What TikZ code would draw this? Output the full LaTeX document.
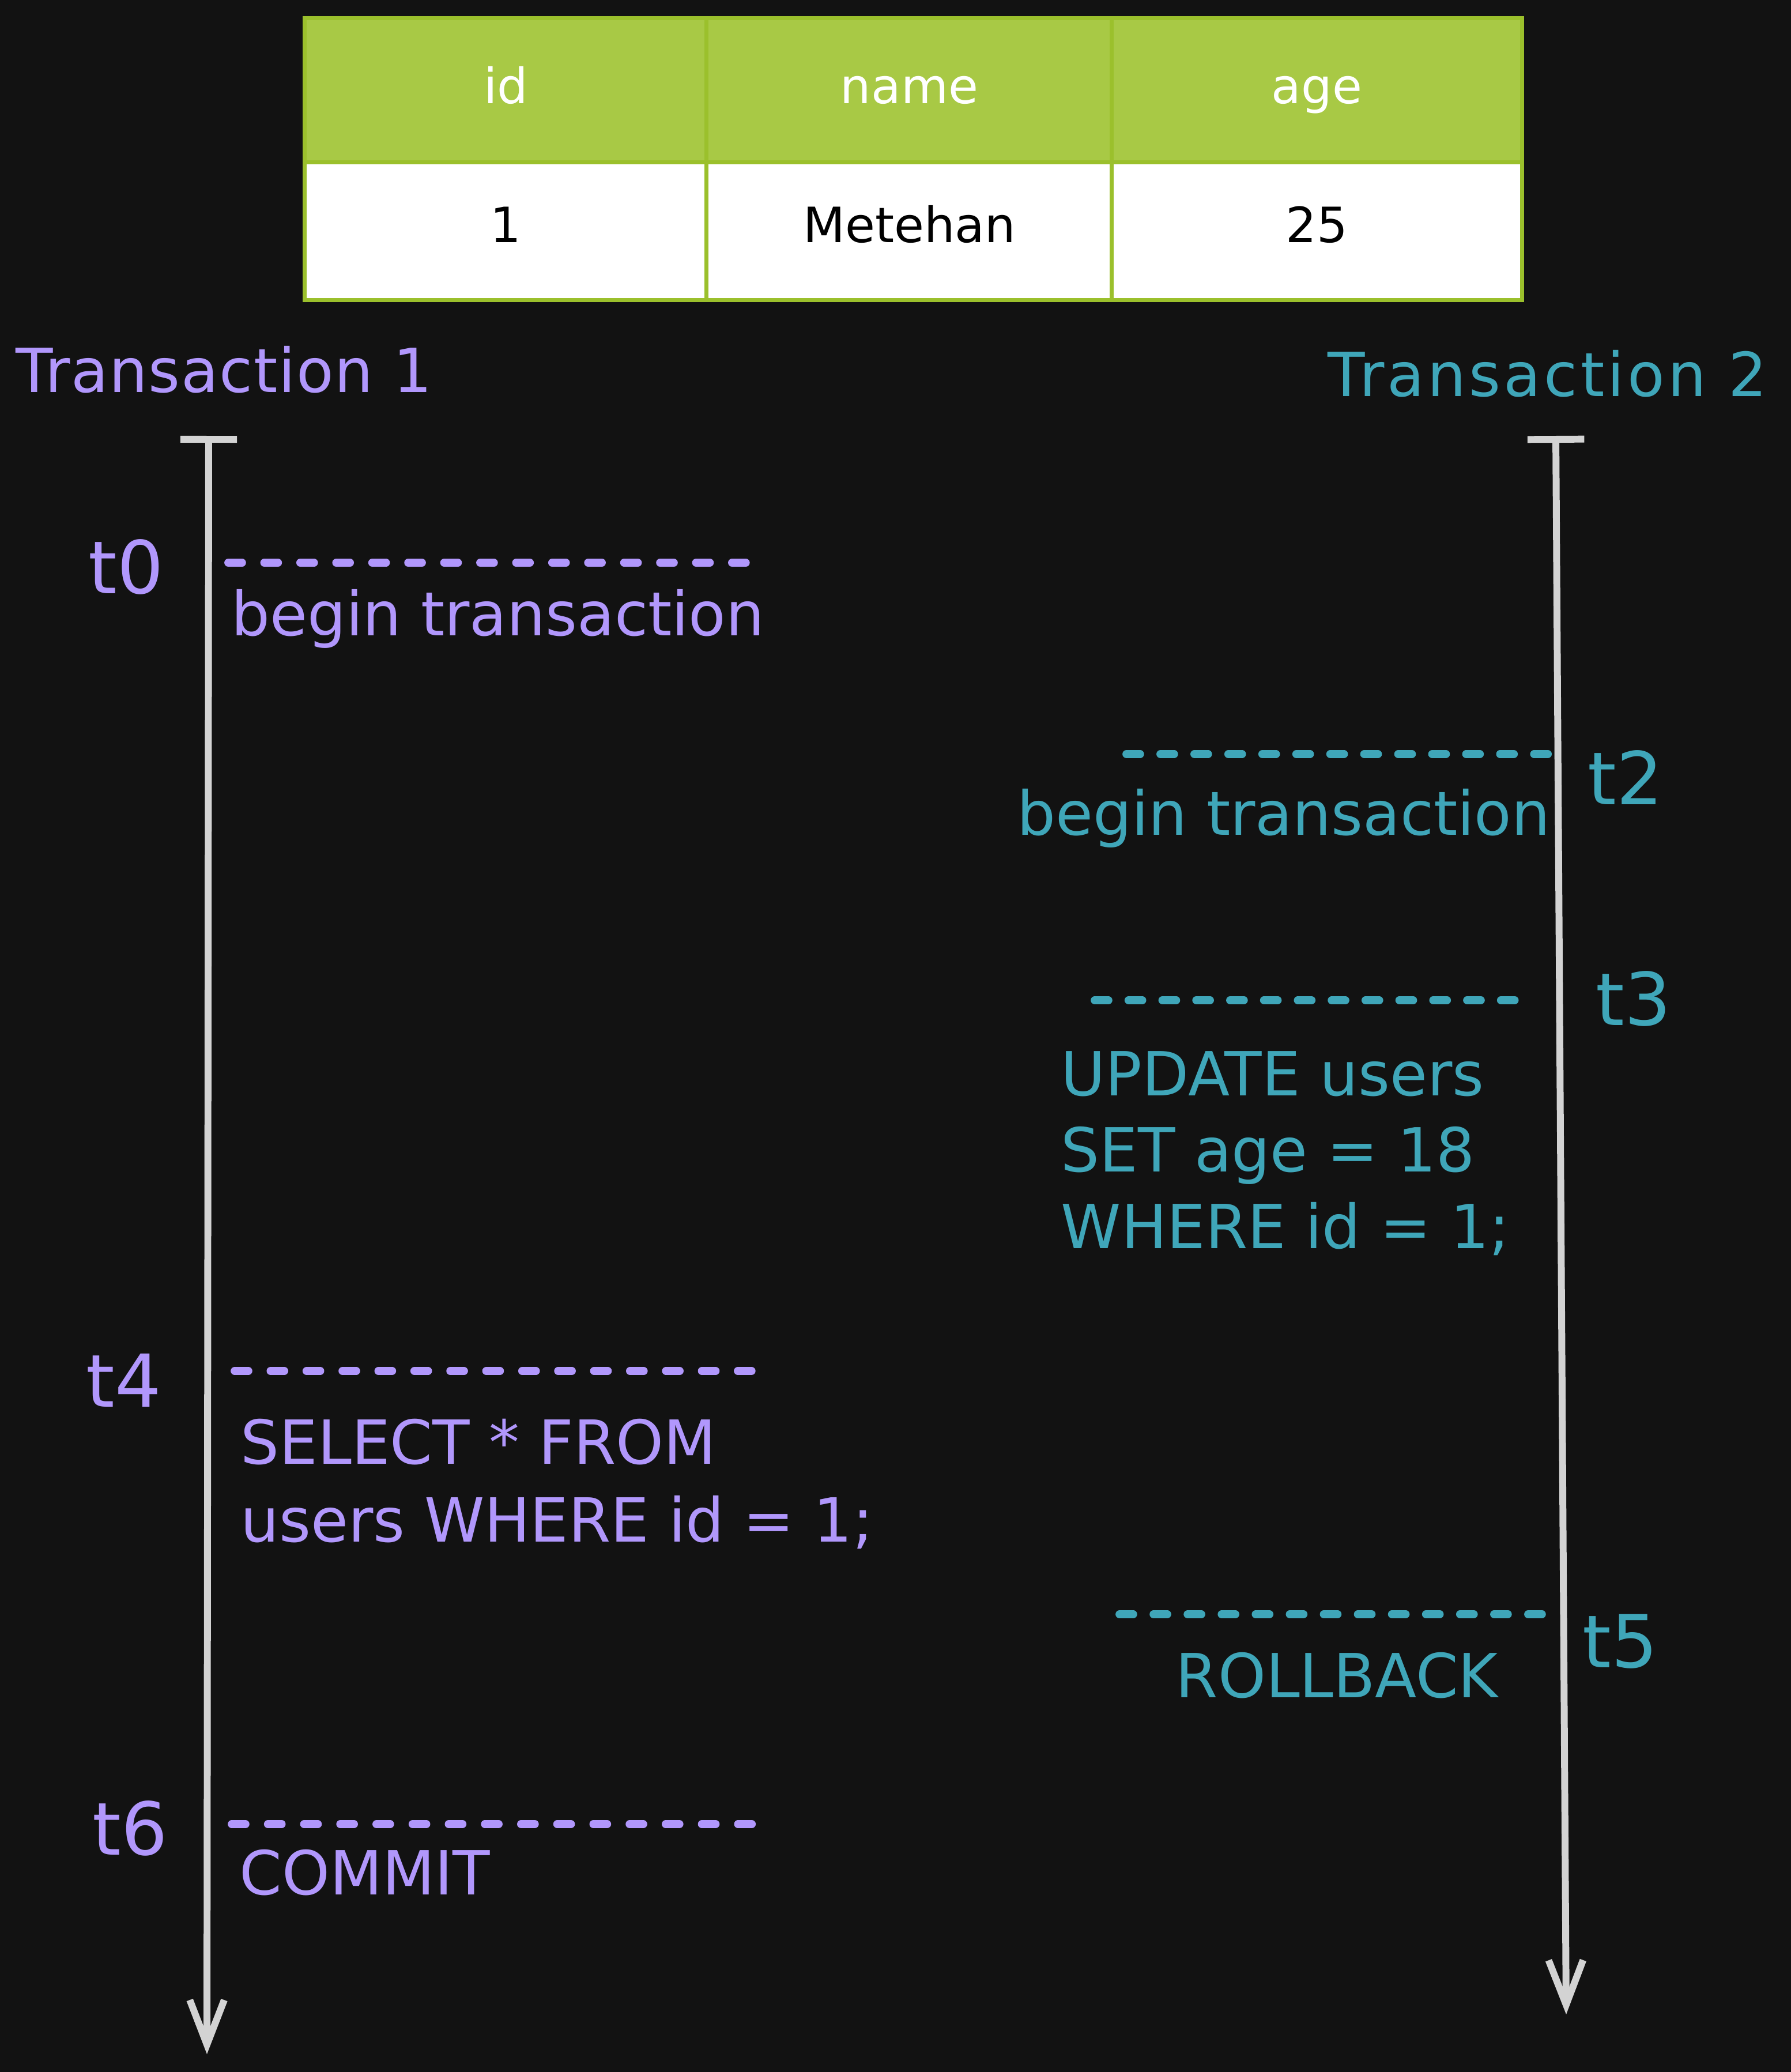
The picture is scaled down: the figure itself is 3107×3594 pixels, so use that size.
\documentclass[tikz,border=0pt]{standalone}
\usepackage{fontspec}
\setmainfont{DejaVu Sans}
\usetikzlibrary{arrows.meta}
\definecolor{bg}{HTML}{121212}
\definecolor{tone}{HTML}{B197FC}
\definecolor{ttwo}{HTML}{3FA6B9}
\definecolor{rail}{HTML}{D3D3D3}
\definecolor{hdr}{HTML}{A8C945}
\definecolor{hdrline}{HTML}{9BC02C}
\begin{document}
\begin{tikzpicture}[x=0.01cm,y=-0.01cm,
  txt/.style={inner sep=0pt, anchor=base west, font=\fontsize{30pt}{36pt}\selectfont},
  pur/.style={txt, text=tone},
  tea/.style={txt, text=ttwo},
  tlab/.style={inner sep=0pt, anchor=base west, font=\fontsize{36pt}{42pt}\selectfont},
  cell/.style={draw=hdrline, line width=2pt, inner sep=0pt, text height=1.2em, text depth=0.1em,
     font=\fontsize{24pt}{28pt}\selectfont},
  hcell/.style={cell, fill=hdr, text=white, minimum height=2.5cm, text height=1.4em},
  bcell/.style={cell, fill=white, text=black, minimum height=2.38cm},
  railline/.style={draw=rail, line width=3.4pt, line cap=round,
     {Bar[width=28pt]}-{Straight Barb[length=22pt,width=17pt]}},
  sepline/.style={line width=3.9pt, line cap=round, dash pattern=on 6.8pt off #1}
]
\useasboundingbox[fill=bg] (0,0) rectangle (3107,3594);

% table
\node[hcell, minimum width=6.97cm] (h1) at (877.5,157) {id};
\node[hcell, minimum width=7.03cm] (h2) at (1577.5,157) {name};
\node[hcell, minimum width=7.11cm] (h3) at (2284.5,157) {age};
\node[bcell, minimum width=6.97cm] (c1) at (877.5,401) {1};
\node[bcell, minimum width=7.03cm] (c2) at (1577.5,401) {Metehan};
\node[bcell, minimum width=7.11cm] (c3) at (2284.5,401) {25};

% titles
\node[pur, font=\fontsize{30pt}{36pt}\selectfont\addfontfeature{LetterSpace=1.5}] (tr1) at (27,680) {Transaction 1};
\node[tea, font=\fontsize{30pt}{36pt}\selectfont\addfontfeature{LetterSpace=5}] (tr2) at (2303,687) {Transaction 2};

% rails
\coordinate (r1a) at (362,756);
\coordinate (r1b) at (359,3563);
\coordinate (r2a) at (2699,756);
\coordinate (r2b) at (2717,3494);
\draw[railline] (r1a) -- (r1b);
\draw[railline] (r2a) -- (r2b);

% transaction 1 events
\node[tlab, text=tone] (t0) at (153,1029) {t0};
\coordinate (s0a) at (396,976); \coordinate (s0b) at (1295,976);
\draw[sepline=10.95pt, draw=tone] (s0a) -- (s0b);
\node[pur] (b1) at (401,1102) {begin transaction};

\node[tlab, text=tone] (t4) at (149,2440) {t4};
\coordinate (s4a) at (407,2378); \coordinate (s4b) at (1305,2378);
\draw[sepline=10.93pt, draw=tone] (s4a) -- (s4b);
\node[pur] (q1) at (417,2539) {SELECT * FROM};
\node[pur] (q2) at (417,2674) {users WHERE id = 1;};

\node[tlab, text=tone] (t6) at (160,3217) {t6};
\coordinate (s6a) at (402,3164); \coordinate (s6b) at (1305,3164);
\draw[sepline=11.04pt, draw=tone] (s6a) -- (s6b);
\node[pur] (cm) at (415,3286) {COMMIT};

% transaction 2 events
\node[tlab, text=ttwo] (t2) at (2754,1395) {t2};
\coordinate (s2a) at (1954,1308); \coordinate (s2b) at (2686,1308);
\draw[sepline=9.96pt, draw=ttwo] (s2a) -- (s2b);
\node[tea] (b2) at (1764,1448) {begin transaction};

\node[tlab, text=ttwo] (t3) at (2768,1778) {t3};
\coordinate (s3a) at (1899,1735); \coordinate (s3b) at (2629,1735);
\draw[sepline=9.9pt, draw=ttwo] (s3a) -- (s3b);
\node[tea] (u1) at (1840,1900) {UPDATE users};
\node[tea] (u2) at (1840,2032) {SET age = 18};
\node[tea] (u3) at (1840,2165) {WHERE id = 1;};

\node[tlab, text=ttwo] (t5) at (2745,2892) {t5};
\coordinate (s5a) at (1942,2800); \coordinate (s5b) at (2675,2800);
\draw[sepline=10pt, draw=ttwo] (s5a) -- (s5b);
\node[tea] (rb) at (2039,2944) {ROLLBACK};
\end{tikzpicture}
\end{document}
